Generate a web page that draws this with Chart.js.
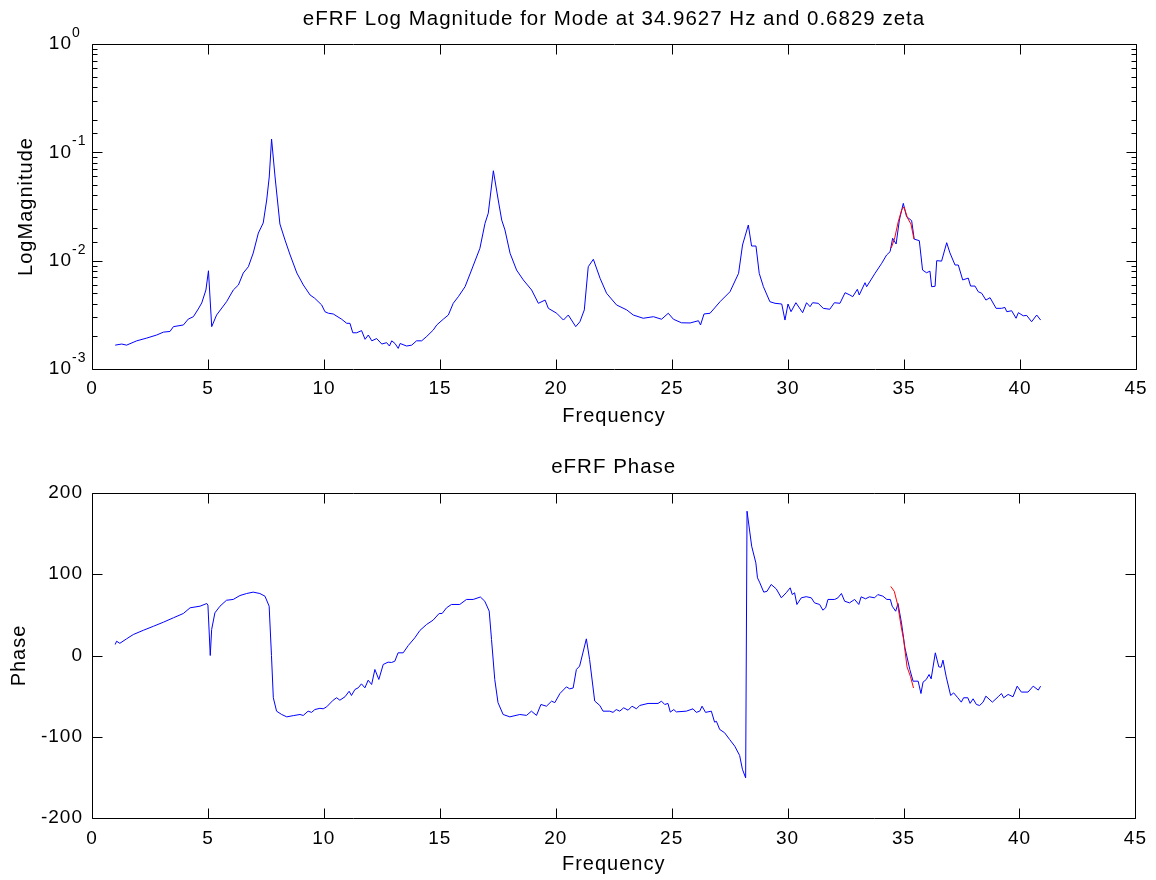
<!DOCTYPE html>
<html>
<head>
<meta charset="utf-8">
<script src="https://cdn.jsdelivr.net/npm/chart.js@4.4.1/dist/chart.umd.min.js"></script>
<style>
  body { margin: 0; background: #fff; }
  canvas { display: block; }
</style>
</head>
<body>
<canvas id="magChart" width="1156" height="440"></canvas>
<canvas id="phaseChart" width="1156" height="440"></canvas>
<script>
// titles
const magTitle = 'eFRF Log Magnitude for Mode at 34.9627 Hz and 0.6829 zeta';
const phaseTitle = 'eFRF Phase';
const xLabel = 'Frequency';
const magLabel = 'LogMagnitude';
const phaseLabel = 'Phase';

const magFreq = [
  1.0, 1.28, 1.49, 1.93, 2.36, 2.79, 3.08, 3.36, 3.51, 3.94,
  4.15, 4.37, 4.58, 4.73, 4.91, 5.02, 5.16, 5.37, 5.8, 6.09,
  6.31, 6.52, 6.74, 6.95, 7.17, 7.38, 7.53, 7.64, 7.74, 7.89,
  8.1, 8.32, 8.54, 8.83, 9.11,
  9.4, 9.6, 9.9, 10.04, 10.19, 10.4, 10.76, 10.98, 11.12, 11.24,
  11.41, 11.62, 11.77, 11.91, 12.06, 12.27, 12.49, 12.7, 12.82, 12.92,
  13.06, 13.2, 13.28, 13.56, 13.78, 13.99, 14.21, 14.43, 14.71, 14.86,
  15.14, 15.36, 15.57, 15.79,
  16.08, 16.36, 16.72,
  16.94, 17.08, 17.3, 17.51, 17.66, 17.8, 18.02, 18.3, 18.59, 18.95,
  19.24, 19.53, 19.67, 20.03, 20.32, 20.53, 20.85, 21.03, 21.22, 21.39,
  21.61, 21.9, 22.18, 22.61, 23.05, 23.33, 23.76, 24.2, 24.55, 24.84,
  25.06, 25.41, 25.78, 26.14, 26.23, 26.38, 26.64, 27.07, 27.5, 27.87,
  28.04, 28.29, 28.43, 28.62, 28.76, 28.94, 29.22, 29.44, 29.73, 29.87,
  30.0, 30.13, 30.34, 30.63, 30.8, 30.95, 31.06, 31.3, 31.52, 31.8,
  32.0, 32.24, 32.46, 32.67, 32.79, 32.99, 33.07, 33.32, 33.39, 33.75,
  34.04, 34.25, 34.4, 34.51, 34.66, 34.8, 34.97, 35.11, 35.33, 35.44,
  35.66, 35.8, 35.97, 36.12, 36.19, 36.34, 36.41, 36.62, 36.84, 36.98,
  37.2, 37.34, 37.53, 37.77, 37.87, 38.06, 38.2, 38.35, 38.53, 38.71,
  38.97, 39.2, 39.35, 39.43, 39.64, 39.83, 39.93, 40.14, 40.29, 40.5,
  40.72, 40.89
];
const magVals = [
  0.00166, 0.0017, 0.00166, 0.00182, 0.00193, 0.00206, 0.00219, 0.00222, 0.00246, 0.00255,
  0.00289, 0.00304, 0.00358, 0.00407, 0.00536, 0.00807, 0.00246, 0.00315, 0.00418, 0.00536,
  0.00596, 0.00769, 0.00879, 0.01177, 0.01799, 0.02228, 0.0363, 0.0592, 0.1327, 0.0592,
  0.0218, 0.0155, 0.01128, 0.00769, 0.00596,
  0.00482, 0.0045, 0.0039, 0.00338, 0.00327, 0.00322, 0.00288, 0.00264, 0.00264, 0.00216,
  0.00216, 0.00226, 0.00188, 0.00206, 0.00182, 0.00191, 0.0017, 0.00175, 0.00163, 0.00182,
  0.00172, 0.00155, 0.00172, 0.00163, 0.00166, 0.00182, 0.00182, 0.002, 0.00229, 0.00255,
  0.00288, 0.00315, 0.00404, 0.00465,
  0.00575, 0.0082, 0.013,
  0.0221, 0.0274, 0.0676, 0.0363, 0.0237, 0.0192, 0.0117, 0.0082, 0.00664, 0.00536,
  0.00404, 0.00433, 0.00363, 0.00327, 0.00283, 0.00315, 0.00246, 0.00273, 0.00351, 0.00879,
  0.0103, 0.00687, 0.005, 0.0039, 0.00351, 0.00315, 0.00294, 0.00304, 0.00288, 0.00327,
  0.00288, 0.00267, 0.00266, 0.00279, 0.00255, 0.00322, 0.00327, 0.00418, 0.00517, 0.00764,
  0.01395, 0.02134, 0.01365, 0.01365, 0.00764, 0.00575, 0.00418, 0.00404, 0.00398, 0.00283,
  0.00398, 0.00338, 0.00409, 0.00331, 0.00409, 0.00376, 0.00409, 0.00404, 0.00363, 0.00356,
  0.00409, 0.00404, 0.00506, 0.00482, 0.00465, 0.00544, 0.00482, 0.00626, 0.00575, 0.00764,
  0.00946, 0.01128, 0.0121, 0.0161, 0.01425, 0.0237, 0.0338, 0.0255, 0.0234, 0.0158,
  0.0153, 0.0082, 0.00774, 0.008, 0.00575, 0.0058, 0.01, 0.0099, 0.01465, 0.0118,
  0.00912, 0.00912, 0.00664, 0.0069, 0.00583, 0.00583, 0.00517, 0.005, 0.00433, 0.00455,
  0.00363, 0.00363, 0.0037, 0.00338, 0.00345, 0.00294, 0.00331, 0.0031, 0.00312, 0.00273,
  0.00315, 0.00283
];

// measured FRF, phase in degrees
const phaseFreq = [
  1.0, 1.06, 1.2, 1.49, 1.78, 2.21, 2.65, 3.08, 3.51, 3.94,
  4.23, 4.66, 4.95, 5.0, 5.1, 5.16, 5.3, 5.52, 5.8, 6.09,
  6.38, 6.67, 6.95, 7.24, 7.46, 7.64, 7.74, 7.82, 7.96, 8.18,
  8.4, 8.68,
  8.97, 9.11, 9.32, 9.47, 9.61, 9.83, 9.97, 10.12, 10.4, 10.55,
  10.69, 10.91, 11.09, 11.19, 11.34, 11.48, 11.62, 11.77, 11.91, 12.06,
  12.2, 12.37, 12.56, 12.77, 12.92, 13.06, 13.2, 13.42, 13.64, 13.92,
  14.14, 14.43, 14.71,
  14.97, 15.1, 15.29, 15.5, 15.86, 16.15, 16.44, 16.75, 16.94, 17.13,
  17.23, 17.37, 17.51, 17.73, 18.02, 18.45, 18.74, 18.95, 19.17, 19.36,
  19.6, 19.82, 19.96, 20.18, 20.46, 20.6, 20.75, 20.89, 21.03, 21.32,
  21.46, 21.68,
  21.9, 22.04, 22.33, 22.47, 22.61, 22.76, 22.93, 23.12, 23.29, 23.48,
  23.62, 23.98, 24.41, 24.56, 24.7, 24.84, 24.94, 25.09, 25.2, 25.63,
  25.92, 26.06, 26.21, 26.31, 26.46, 26.71, 26.85, 26.93, 27.07, 27.28,
  27.5, 27.72, 27.93, 28.05, 28.19,
  28.25, 28.45, 28.63, 28.7, 28.79, 28.97, 29.11, 29.29, 29.51, 29.73,
  29.94, 30.11, 30.2, 30.3, 30.4, 30.59, 30.8, 31.02, 31.16, 31.38,
  31.52, 31.64, 31.74, 32.03, 32.17, 32.32, 32.46, 32.67, 32.89, 33.07,
  33.17, 33.36, 33.53, 33.75, 33.89, 34.11, 34.28, 34.43, 34.51, 34.66,
  34.76,
  34.91, 35.06, 35.27, 35.41, 35.63, 35.75, 35.84, 35.98, 36.1, 36.19,
  36.37, 36.52, 36.62, 36.7, 36.84, 37.03, 37.16, 37.34, 37.49, 37.59,
  37.77, 37.87, 38.0, 38.14, 38.28, 38.43, 38.55, 38.83, 39.08, 39.22,
  39.32, 39.51, 39.72, 39.9, 40.08, 40.37, 40.59, 40.81, 40.91
];
const phaseVals = [
  13.5, 17.6, 15, 20.5, 25.8, 31, 36, 41, 46.4, 51.7,
  58.7, 60.7, 64, 62, 0, 32, 52.5, 60.7, 68, 69,
  73.8, 76.3, 78, 76.3, 73, 60.7, 0, -52, -68.5, -72.6,
  -75.5, -74,
  -72.6, -73.8, -68.5, -70, -66.5, -65, -65.6, -63.2, -55, -52,
  -55, -50.8, -44, -49.2, -41.8, -39.8, -34.9, -39.8, -30.4, -35.7,
  -17.2, -29.5, -11, -8.2, -8.6, -7, 3.3, 3.3, 12.3, 21.7,
  30.8, 38.2, 43.5,
  51.7, 51.7, 58.7, 62.8, 62.8, 69, 69, 72, 66.8, 54.6,
  19.7, -29.5, -58, -72.6, -75.5, -72.6, -73.7, -68.5, -73.7, -60.3,
  -62.4, -56.2, -58, -46.8, -38.6, -41, -40, -17.2, -13, 20.5,
  -4.9, -56,
  -61.5, -68.5, -68.5, -70, -66.5, -68.5, -64.4, -67.3, -62.4, -65.6,
  -61.5, -59, -59, -56.2, -60.3, -59, -69.7, -66.5, -69.4, -68.5,
  -65.6, -70, -68.5, -62.4, -70, -68.5, -82, -81, -91, -95,
  -103.4, -111.6, -123, -140, -150.6,
  177.6, 134.5, 114, 95.6, 90.2, 78, 79, 87.4, 82, 71,
  77.2, 83.3, 75, 77.2, 62.8, 71, 72.4, 71, 64.8, 62.8,
  55.8, 58.7, 69, 69, 71, 76.3, 66.8, 64.8, 69, 62.8,
  72.2, 69.8, 72.2, 71, 75, 73, 69, 69, 60.7, 54.5,
  64,
  40.2, 9.4, -17.2, -31.6, -31.6, -46.8, -32.8, -29.5, -23.4, -28.7,
  3.3, -14, -14.4, -5.7, -26.3, -49.2, -46, -52, -57.4, -52,
  -52, -58.9, -53.3, -60.3, -61.5, -57.4, -50, -57.4, -50.8, -46.8,
  -52, -47.9, -50.8, -37.7, -45, -45, -37.7, -42.6, -37.7
];

// fitted mode (red)
const fitFreq = [34.45, 34.6, 34.75, 34.9, 35.0, 35.15, 35.3, 35.43];
const fitMag = [0.0131, 0.0162, 0.0228, 0.0294, 0.0313, 0.0248, 0.0218, 0.0158];
const fitPhase = [85, 79, 62, 35, 20, -14, -26, -40];

const FONT = '"Liberation Sans", Arial, Helvetica, sans-serif';

function pairs(xs, ys) {
  return xs.map((x, i) => ({ x: x, y: ys[i] }));
}

function isPow10(v) {
  const l = Math.log10(v);
  return Math.abs(l - Math.round(l)) < 1e-9;
}

// a bit of letter spacing, the original text is wide
const spacing = {
  id: 'spacing',
  beforeLayout(chart) { chart.ctx.letterSpacing = '1px'; },
  beforeDraw(chart) { chart.ctx.letterSpacing = '1px'; }
};

// box round the axes, inward ticks, exponents on the log axis
const frame = {
  id: 'frame',
  afterDraw(chart) {
    const ctx = chart.ctx;
    const a = chart.chartArea;
    const x = chart.scales.x;
    const y = chart.scales.y;
    const L = Math.round(a.left) + 0.5, R = Math.round(a.right) + 0.5;
    const T = Math.round(a.top) + 0.5, B = Math.round(a.bottom) + 0.5;
    ctx.save();
    ctx.strokeStyle = '#000';
    ctx.lineWidth = 1;
    ctx.beginPath();
    x.ticks.forEach(t => {
      const px = Math.round(x.getPixelForValue(t.value)) + 0.5;
      ctx.moveTo(px, B); ctx.lineTo(px, B - 10);
      ctx.moveTo(px, T); ctx.lineTo(px, T + 10);
    });
    y.ticks.forEach(t => {
      const len = (y.type === 'logarithmic' && !isPow10(t.value)) ? 5 : 10;
      const py = Math.round(y.getPixelForValue(t.value)) + 0.5;
      ctx.moveTo(L, py); ctx.lineTo(L + len, py);
      ctx.moveTo(R, py); ctx.lineTo(R - len, py);
    });
    ctx.moveTo(L, T); ctx.lineTo(R, T); ctx.lineTo(R, B); ctx.lineTo(L, B); ctx.closePath();
    ctx.stroke();

    if (y.type === 'logarithmic') {
      ctx.fillStyle = '#000';
      ctx.font = '14px ' + FONT;
      ctx.textAlign = 'left';
      ctx.textBaseline = 'middle';
      y.ticks.forEach(t => {
        if (!isPow10(t.value)) return;
        const py = y.getPixelForValue(t.value);
        ctx.fillText(String(Math.round(Math.log10(t.value))), a.left - 20, py - 11);
      });
    }
    ctx.restore();
  }
};

function xScale(height, labelPad, titlePad) {
  return {
    type: 'linear',
    min: 0,
    max: 45,
    afterFit: s => { s.height = height; },
    grid: { display: false, drawTicks: false },
    border: { display: false },
    ticks: {
      stepSize: 5,
      padding: labelPad,
      maxRotation: 0,
      color: '#000',
      font: { family: FONT, size: 19 }
    },
    title: {
      display: true,
      text: xLabel,
      color: '#000',
      font: { family: FONT, size: 20 },
      padding: { top: 0, bottom: titlePad }
    }
  };
}

function baseOptions(title, titlePad) {
  return {
    responsive: false,
    animation: false,
    devicePixelRatio: 1,
    events: [],
    layout: { padding: { left: 0, right: 20, top: 0, bottom: 0 } },
    plugins: {
      legend: { display: false },
      tooltip: { enabled: false },
      title: {
        display: true,
        fullSize: false,
        text: title,
        color: '#000',
        font: { family: FONT, size: 20.5, weight: 'normal', lineHeight: 1.2 },
        padding: titlePad
      }
    }
  };
}

const magOptions = baseOptions(magTitle, { top: 7, bottom: 12.4 });
magOptions.scales = {
  x: xScale(71, 8, 12),
  y: {
    type: 'logarithmic',
    min: 0.001,
    max: 1,
    afterFit: s => { s.width = 92; },
    grid: { display: false, drawTicks: false },
    border: { display: false },
    ticks: {
      autoSkip: false,
      padding: 20,
      color: '#000',
      font: { family: FONT, size: 19 },
      callback: v => isPow10(v) ? '10' : ''
    },
    title: {
      display: true,
      text: magLabel,
      color: '#000',
      font: { family: FONT, size: 20 },
      padding: { top: 14, bottom: 0 }
    }
  }
};

new Chart(document.getElementById('magChart'), {
  type: 'line',
  data: {
    datasets: [{
      data: pairs(fitFreq, fitMag),
      borderColor: '#ff0000',
      borderWidth: 1,
      pointRadius: 0
    }, {
      data: pairs(magFreq, magVals),
      borderColor: '#0000ff',
      borderWidth: 1,
      pointRadius: 0
    }]
  },
  options: magOptions,
  plugins: [spacing, frame]
});

const phaseOptions = baseOptions(phaseTitle, { top: 15, bottom: 13.4 });
phaseOptions.scales = {
  x: xScale(62, 9, 4),
  y: {
    type: 'linear',
    min: -200,
    max: 200,
    afterFit: s => { s.width = 92; },
    grid: { display: false, drawTicks: false },
    border: { display: false },
    ticks: {
      stepSize: 100,
      padding: 9,
      color: '#000',
      font: { family: FONT, size: 19 }
    },
    title: {
      display: true,
      text: phaseLabel,
      color: '#000',
      font: { family: FONT, size: 20 },
      padding: { top: 7, bottom: 0 }
    }
  }
};

new Chart(document.getElementById('phaseChart'), {
  type: 'line',
  data: {
    datasets: [{
      data: pairs(fitFreq, fitPhase),
      borderColor: '#ff0000',
      borderWidth: 1,
      pointRadius: 0
    }, {
      data: pairs(phaseFreq, phaseVals),
      borderColor: '#0000ff',
      borderWidth: 1,
      pointRadius: 0
    }]
  },
  options: phaseOptions,
  plugins: [spacing, frame]
});
</script>
</body>
</html>
